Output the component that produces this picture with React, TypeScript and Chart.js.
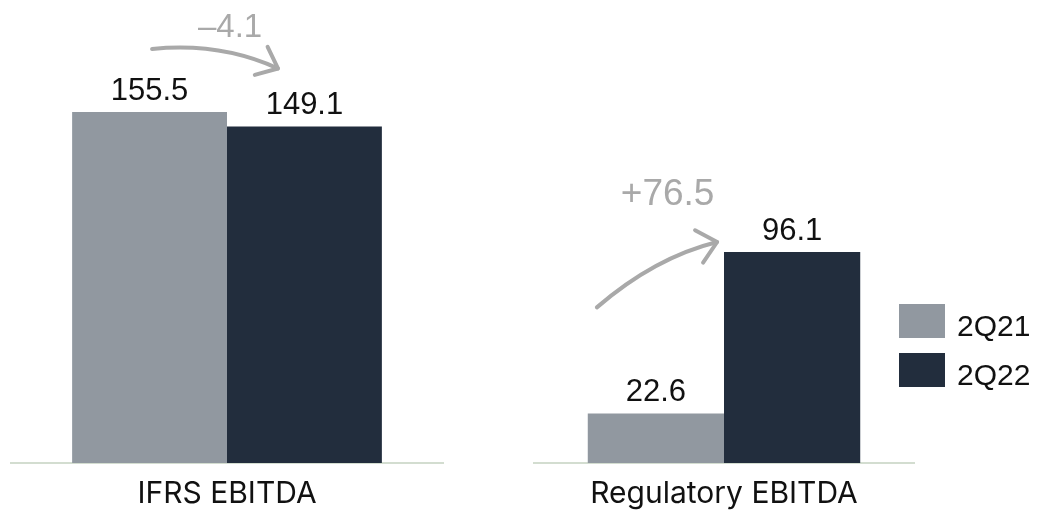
import React, { useEffect, useRef } from 'react';
import { Chart, registerables } from 'chart.js';

Chart.register(...registerables);

// Series shared by both panels
const SERIES = ['2Q21', '2Q22'];
const SERIES_COLORS = ['#9198a0', '#222d3d'];

// IFRS panel
const IFRS_CATEGORIES = ['IFRS EBITDA'];
const IFRS_2Q21 = [155.5];
const IFRS_2Q22 = [149.1];
const IFRS_CHANGE = '\u20134.1';

// Regulatory panel
const REG_CATEGORIES = ['Regulatory EBITDA'];
const REG_2Q21 = [22.6];
const REG_2Q22 = [96.1];
const REG_CHANGE = '+76.5';

const W = 1045;
const H = 510;
const LABEL_FONT = 'Inter, "Noto Sans", sans-serif';
const NUM_FONT = '"Liberation Sans", Arial, sans-serif';
const ANNOT_GREY = '#a9a9a9';

// Value printed above every bar
const valueLabels = {
  id: 'valueLabels',
  afterDatasetsDraw(chart: any) {
    const { ctx } = chart;
    ctx.save();
    ctx.font = `31px ${NUM_FONT}`;
    ctx.fillStyle = '#111111';
    ctx.textAlign = 'center';
    ctx.textBaseline = 'alphabetic';
    chart.data.datasets.forEach((ds: any, di: number) => {
      const meta = chart.getDatasetMeta(di);
      meta.data.forEach((el: any, i: number) => {
        const v = ds.data[i];
        if (v == null) return;
        ctx.fillText(Number(v).toFixed(1), el.x, el.y - 12);
      });
    });
    ctx.restore();
  },
};

// Curved arrow from the first bar to the second, with the change figure
const changeArrow = {
  id: 'changeArrow',
  afterDatasetsDraw(chart: any, _args: any, opts: any) {
    if (!opts || !opts.text) return;
    const a = chart.getDatasetMeta(0).data[0];
    const b = chart.getDatasetMeta(1).data[0];
    if (!a || !b) return;
    const { ctx } = chart;
    const sx = a.x + opts.start[0];
    const sy = a.y + opts.start[1];
    const cx = a.x + opts.ctrl[0];
    const cy = a.y + opts.ctrl[1];
    const ex = b.x + opts.end[0];
    const ey = b.y + opts.end[1];
    ctx.save();
    ctx.strokeStyle = ANNOT_GREY;
    ctx.lineWidth = 4;
    ctx.lineCap = 'round';
    ctx.lineJoin = 'round';
    ctx.beginPath();
    ctx.moveTo(sx, sy);
    ctx.quadraticCurveTo(cx, cy, ex, ey);
    ctx.stroke();
    // arrow head, following the tangent at the tip
    const ang = Math.atan2(ey - cy, ex - cx);
    const back = ang + Math.PI;
    const spread = (opts.headAngle * Math.PI) / 180;
    const len = opts.headLength;
    ctx.beginPath();
    ctx.moveTo(ex + Math.cos(back + spread) * len, ey + Math.sin(back + spread) * len);
    ctx.lineTo(ex, ey);
    ctx.lineTo(ex + Math.cos(back - spread) * len, ey + Math.sin(back - spread) * len);
    ctx.stroke();
    // change figure
    const ref = opts.textFrom === 'b' ? b : a;
    ctx.font = `${opts.textSize}px ${NUM_FONT}`;
    ctx.fillStyle = ANNOT_GREY;
    ctx.textAlign = 'center';
    ctx.textBaseline = 'alphabetic';
    ctx.fillText(opts.text, ref.x + opts.textOffset[0], ref.y + opts.textOffset[1]);
    ctx.restore();
  },
};

// Square-swatch legend to the right of the plot
const swatchLegend = {
  id: 'swatchLegend',
  afterDraw(chart: any, _args: any, opts: any) {
    if (!opts || !opts.show) return;
    const { ctx } = chart;
    ctx.save();
    ctx.font = `30px ${NUM_FONT}`;
    ctx.textAlign = 'left';
    ctx.textBaseline = 'alphabetic';
    chart.data.datasets.forEach((ds: any, i: number) => {
      const y = opts.top + i * opts.rowGap;
      ctx.fillStyle = ds.backgroundColor;
      ctx.fillRect(opts.left, y, opts.boxWidth, opts.boxHeight);
      ctx.fillStyle = '#111111';
      ctx.fillText(ds.label, opts.left + opts.boxWidth + 12, y + 32);
    });
    ctx.restore();
  },
};

function buildConfig(
  categories: string[],
  first: number[],
  second: number[],
  yMax: number,
  padding: { left: number; right: number; top: number },
  arrow: any,
  legend: any
): any {
  return {
    type: 'bar',
    data: {
      labels: categories,
      datasets: [
        { label: SERIES[0], data: first, backgroundColor: SERIES_COLORS[0], borderWidth: 0 },
        { label: SERIES[1], data: second, backgroundColor: SERIES_COLORS[1], borderWidth: 0 },
      ],
    },
    options: {
      responsive: false,
      animation: false,
      events: [],
      datasets: { bar: { categoryPercentage: 0.717, barPercentage: 1 } },
      layout: { padding: { left: padding.left, right: padding.right, top: padding.top, bottom: 0 } },
      scales: {
        x: {
          grid: { display: false, drawTicks: false },
          border: { display: true, color: '#d3ddd0', width: 2 },
          ticks: { color: '#111111', font: { family: LABEL_FONT, size: 30 }, padding: 13 },
          afterFit: (s: any) => {
            s.height = 47;
          },
        },
        y: { display: false, min: 0, max: yMax },
      },
      plugins: {
        legend: { display: false },
        tooltip: { enabled: false },
        changeArrow: arrow,
        swatchLegend: legend,
      },
    },
    plugins: [valueLabels, changeArrow, swatchLegend],
  };
}

export default function App() {
  const ifrsRef = useRef<HTMLCanvasElement | null>(null);
  const regRef = useRef<HTMLCanvasElement | null>(null);

  useEffect(() => {
    let charts: Chart[] = [];
    let cancelled = false;
    const make = () => {
      if (cancelled || !ifrsRef.current || !regRef.current) return;
      charts.push(
        new Chart(
          ifrsRef.current,
          buildConfig(
            IFRS_CATEGORIES,
            IFRS_2Q21,
            IFRS_2Q22,
            200,
            { left: 11, right: 602, top: 11.56 },
            {
              text: IFRS_CHANGE,
              textSize: 33,
              textFrom: 'a',
              textOffset: [80.5, -75],
              start: [2.5, -63],
              ctrl: [70.5, -70],
              end: [-26.5, -58],
              headAngle: 40,
              headLength: 24,
            },
            { show: false }
          )
        )
      );
      charts.push(
        new Chart(
          regRef.current,
          buildConfig(
            REG_CATEGORIES,
            REG_2Q21,
            REG_2Q22,
            200,
            { left: 534, right: 131, top: 23.88 },
            {
              text: REG_CHANGE,
              textSize: 37,
              textFrom: 'b',
              textOffset: [-124.5, -47],
              start: [-59, -106],
              ctrl: [-1, -156],
              end: [-75, -10],
              headAngle: 42,
              headLength: 25,
            },
            { show: true, left: 899, top: 304, rowGap: 49, boxWidth: 46, boxHeight: 34 }
          )
        )
      );
    };
    const fonts: any = (document as any).fonts;
    if (fonts && fonts.load) {
      Promise.all([fonts.load('30px Inter'), fonts.load('30px "Liberation Sans"')])
        .catch(() => undefined)
        .then(make);
    } else {
      make();
    }
    return () => {
      cancelled = true;
      charts.forEach((c) => c.destroy());
      charts = [];
    };
  }, []);

  const canvasStyle: React.CSSProperties = { position: 'absolute', left: 0, top: 0 };
  return (
    <div style={{ position: 'fixed', left: 0, top: 0, width: W, height: H, background: '#ffffff' }}>
      <canvas ref={ifrsRef} width={W} height={H} style={canvasStyle} />
      <canvas ref={regRef} width={W} height={H} style={canvasStyle} />
    </div>
  );
}
